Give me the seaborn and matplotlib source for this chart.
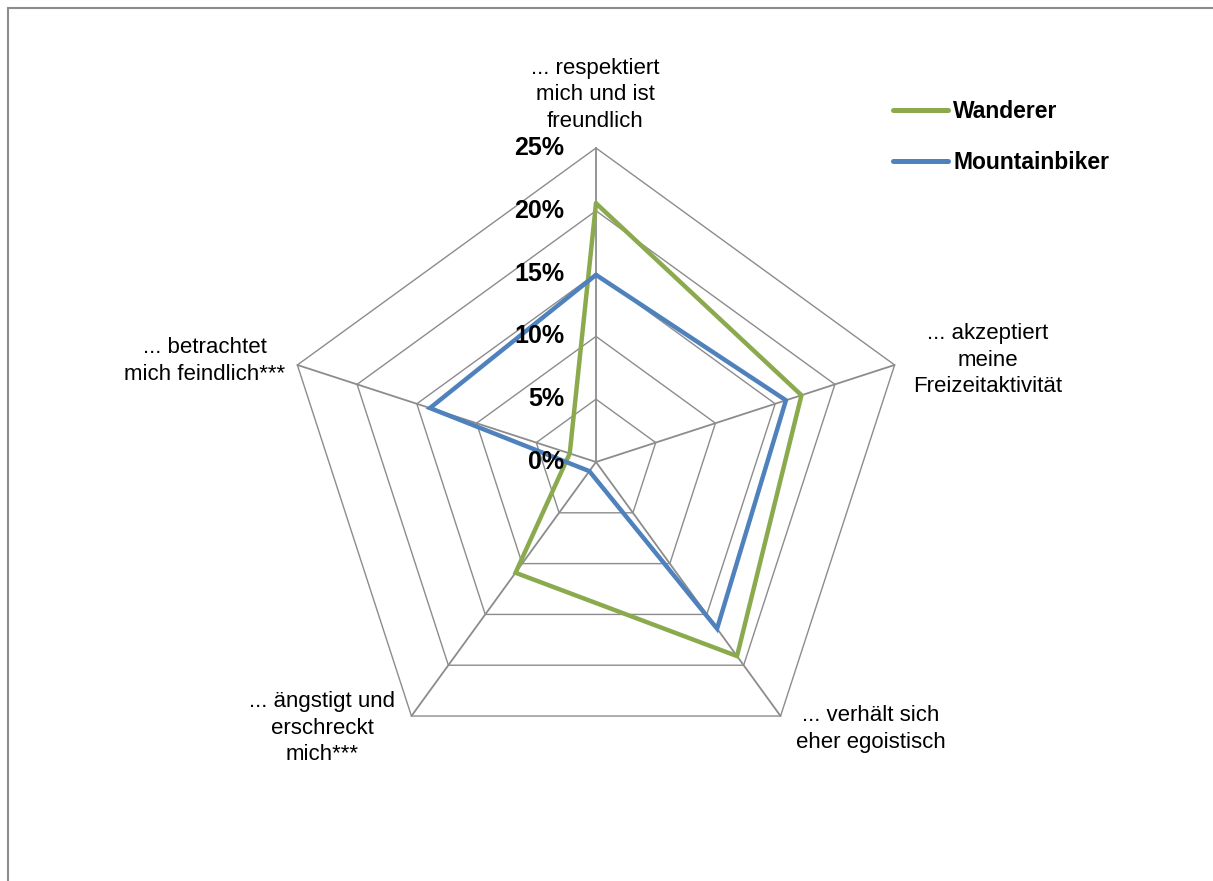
import numpy as np
import pandas as pd
import seaborn as sns
import matplotlib.pyplot as plt
from matplotlib.patches import Rectangle
from matplotlib.lines import Line2D

# data (percent)
categories = ["... respektiert\nmich und ist\nfreundlich",
              "... akzeptiert\nmeine\nFreizeitaktivität",
              "... verhält sich\neher egoistisch",
              "... ängstigt und\nerschreckt\nmich***",
              "... betrachtet\nmich feindlich***"]
wanderer = [20.6, 17.2, 19.1, 10.9, 2.2]
mountainbiker = [14.9, 15.9, 16.4, 0.9, 13.9]
series_names = ["Wanderer", "Mountainbiker"]
tick_values = [0, 5, 10, 15, 20, 25]
tick_labels = ["0%", "5%", "10%", "15%", "20%", "25%"]

sns.set_style("white")
plt.rcParams['font.family'] = ['Liberation Sans', 'DejaVu Sans']
plt.rcParams['text.color'] = 'black'

n = len(categories)
angles = np.deg2rad(90 - 72 * np.arange(n))

rows = []
for name, vals in zip(series_names, [wanderer, mountainbiker]):
    for k in list(range(n)) + [0]:
        rows.append({"x": vals[k] * np.cos(angles[k]),
                     "y": vals[k] * np.sin(angles[k]),
                     "serie": name})
df = pd.DataFrame(rows)

W, H = 1213, 881
fig = plt.figure(figsize=(W / 100, H / 100), dpi=100)
ax = fig.add_axes([0, 0, 1, 1])
px = 314 / 25.0  # pixels per percent
cx, cy = 596, 462
ax.set_xlim(-cx / px, (W - cx) / px)
ax.set_ylim(-(H - cy) / px, cy / px)
ax.set_aspect('equal')
ax.axis('off')

grid_col = '#8c8c8c'
# pentagon grid
for v in tick_values[1:]:
    gx = np.append(v * np.cos(angles), v * np.cos(angles[0]))
    gy = np.append(v * np.sin(angles), v * np.sin(angles[0]))
    ax.plot(gx, gy, color=grid_col, lw=1.0, zorder=1)
# spokes
for a in angles:
    ax.plot([0, 25 * np.cos(a)], [0, 25 * np.sin(a)], color=grid_col, lw=1.3, zorder=1)

colors = ["#8BAA4E", "#4F81BD"]
sns.lineplot(data=df, x="x", y="y", hue="serie", sort=False, estimator=None,
             units="serie", palette=colors, linewidth=3.2,
             ax=ax, zorder=3, legend=False)
for ln in ax.lines[-2:]:
    ln.set_solid_joinstyle('miter')

# radial tick labels
for v, t in zip(tick_values, tick_labels):
    ax.text(-32 / px, v, t, ha='right', va='center', fontsize=18,
            fontweight='bold', color='black', zorder=4)

# category labels (pixel positions of text centers)
label_pos = [(595, 95), (988, 360), (871, 729), (322, 728), (205, 361)]
for lab, (lx, ly) in zip(categories, label_pos):
    fig.text(lx / W, 1 - ly / H, lab, ha='center', va='center', fontsize=16,
             linespacing=1.37, color='black')

# legend
handles = [Line2D([], [], color=c, lw=3.6, solid_capstyle='round') for c in colors]
leg = fig.legend(handles, series_names, loc='upper left',
                 bbox_to_anchor=(884 / W, 1 - 91 / H), frameon=False,
                 prop={'weight': 'bold', 'size': 16.5}, handlelength=2.4,
                 handletextpad=0.22, labelspacing=1.2, borderaxespad=0)
for t in leg.get_texts():
    t.set_color('black')

# chart frame
fig.patches.append(Rectangle((8 / W, -0.1), 1.2, 1 - 8 / H + 0.1,
                             transform=fig.transFigure, fill=False,
                             edgecolor='#8c8c8c', lw=1.5))

fig.savefig("out.png", dpi=100)
